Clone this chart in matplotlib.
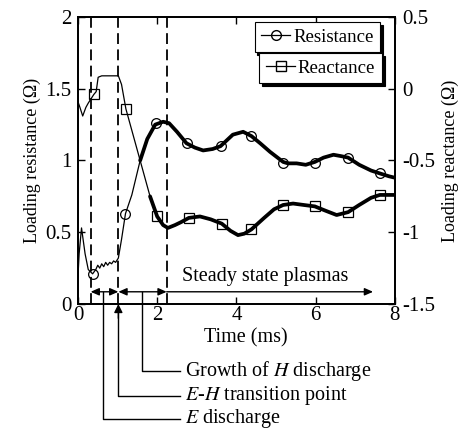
import matplotlib
matplotlib.use("Agg")
import matplotlib.pyplot as plt
import numpy as np
from matplotlib.lines import Line2D

plt.rcParams['font.family'] = ['Liberation Serif', 'DejaVu Serif']
plt.rcParams['mathtext.fontset'] = 'stix'

# ---- data ----
res_t = [0.0, 0.03, 0.09, 0.13, 0.18, 0.26, 0.37, 0.45, 0.5, 0.55, 0.6, 0.65, 0.7, 0.75,
         0.8, 0.85, 0.9, 0.95, 1.02, 1.1, 1.2, 1.36, 1.57, 1.75, 1.95, 2.15, 2.3, 2.5,
         2.74, 2.95, 3.16, 3.4, 3.6, 3.91, 4.17, 4.38, 4.6, 4.85, 5.18, 5.3, 5.52, 5.75,
         5.98, 6.2, 6.45, 6.65, 6.82, 7.1, 7.4, 7.62, 7.85, 8.0]
res_v = [0.19, 0.35, 0.53, 0.45, 0.35, 0.24, 0.21, 0.24, 0.27, 0.25, 0.28, 0.26, 0.29, 0.27,
         0.29, 0.28, 0.30, 0.29, 0.32, 0.45, 0.63, 0.76, 1.00, 1.15, 1.25, 1.27, 1.26, 1.20,
         1.12, 1.09, 1.07, 1.08, 1.10, 1.18, 1.20, 1.17, 1.12, 1.06, 0.99, 0.98, 0.98, 0.97,
         0.99, 1.02, 1.04, 1.03, 1.02, 0.97, 0.93, 0.91, 0.89, 0.88]

rea_t = [0.0, 0.05, 0.12, 0.2, 0.26, 0.33, 0.4, 0.46, 0.51, 0.6, 0.8, 0.95, 1.02, 1.1,
         1.21, 1.4, 1.57, 1.82, 2.0, 2.15, 2.27, 2.45, 2.6, 2.8, 3.08, 3.35, 3.63, 3.85,
         4.04, 4.2, 4.38, 4.7, 4.95, 5.18, 5.43, 5.7, 5.98, 6.25, 6.53, 6.82, 7.1, 7.4,
         7.62, 8.0]
rea_v = [-0.09, -0.13, -0.19, -0.13, -0.10, -0.07, -0.04, -0.02, 0.08, 0.09, 0.09, 0.09,
         0.09, 0.03, -0.14, -0.33, -0.50, -0.75, -0.89, -0.95, -0.97, -0.95, -0.93, -0.90,
         -0.89, -0.91, -0.94, -0.99, -1.02, -1.01, -0.98, -0.90, -0.84, -0.81, -0.80, -0.81,
         -0.82, -0.85, -0.88, -0.86, -0.81, -0.76, -0.74, -0.74]

res_mk_t = [0.37, 1.2, 1.97, 2.76, 3.6, 4.38, 5.18, 5.98, 6.82, 7.62]
res_mk_v = [0.21, 0.63, 1.26, 1.12, 1.10, 1.17, 0.98, 0.98, 1.02, 0.91]
rea_mk_t = [0.4, 1.21, 2.0, 2.8, 3.63, 4.38, 5.18, 5.98, 6.82, 7.62]
rea_mk_v = [-0.04, -0.14, -0.89, -0.90, -0.94, -0.98, -0.81, -0.82, -0.86, -0.74]

phase_lines = [0.32, 1.02, 2.24]
steady_end = 7.45
labels = ["Growth of $\\it{H}$ discharge", "$\\it{E}$-$\\it{H}$ transition point", "$\\it{E}$ discharge"]
label_x = [1.62, 1.02, 0.64]

fig = plt.figure(figsize=(4.64, 4.36), dpi=100)
ax = fig.add_axes([0.168, 0.3028, 0.683, 0.6582])
ax2 = ax.twinx()

rt = np.array(res_t); rv = np.array(res_v)
xt = np.array(rea_t); xv = np.array(rea_v)
m1 = rt <= 1.75; m2 = rt >= 1.57
ax.plot(rt[m1], rv[m1], color='k', lw=0.9)
ax.plot(rt[m2], rv[m2], color='k', lw=2.7, solid_capstyle='round')
ax.plot(res_mk_t, res_mk_v, ls='none', marker='o', ms=7, mfc='none', mec='k', mew=0.9)

n1 = xt <= 2.0; n2 = xt >= 1.82
ax2.plot(xt[n1], xv[n1], color='k', lw=0.9)
ax2.plot(xt[n2], xv[n2], color='k', lw=2.7, solid_capstyle='round')
ax2.plot(rea_mk_t, rea_mk_v, ls='none', marker='s', ms=7, mfc='none', mec='k', mew=0.9)

for xl in phase_lines:
    ax.axvline(xl, color='k', ls=(0, (6, 3)), lw=1.3)

ax.set_xlim(0, 8)
ax.set_ylim(0, 2)
ax2.set_ylim(-1.5, 0.5)
ax.set_xticks([0, 2, 4, 6, 8])
ax.set_yticks([0, 0.5, 1, 1.5, 2])
ax.set_yticklabels(['0', '0.5', '1', '1.5', '2'])
ax2.set_yticks([-1.5, -1, -0.5, 0, 0.5])
ax2.set_yticklabels(['-1.5', '-1', '-0.5', '0', '0.5'])
ax.tick_params(axis='both', direction='in', length=5, width=1, labelsize=15, top=True)
ax.tick_params(axis='x', pad=1.5)
ax.tick_params(axis='y', pad=4.5)
ax2.tick_params(axis='y', direction='in', length=5, width=1, labelsize=15, pad=5)
for a in (ax, ax2):
    for s in a.spines.values():
        s.set_linewidth(1.3)

ax.set_xlabel('Time (ms)', fontsize=14.5, labelpad=0)
ax.xaxis.set_label_coords(0.53, -0.085)
ax.set_ylabel('Loading resistance (Ω)', fontsize=13, labelpad=3)
ax2.set_ylabel('Loading reactance (Ω)', fontsize=13, labelpad=5)

# phase arrows
ay = 0.085
aprops = dict(arrowstyle='<|-|>,head_length=0.5,head_width=0.22', color='k', lw=1.0,
              shrinkA=0, shrinkB=0)
ax.annotate('', xy=(phase_lines[0], ay), xytext=(phase_lines[1], ay), arrowprops=aprops)
ax.annotate('', xy=(phase_lines[1], ay), xytext=(phase_lines[2], ay), arrowprops=aprops)
ax.annotate('', xy=(steady_end, ay), xytext=(phase_lines[2], ay),
            arrowprops=dict(arrowstyle='-|>,head_length=0.5,head_width=0.22', color='k',
                            lw=1.0, shrinkA=0, shrinkB=0))
ax.text(4.72, 0.19, 'Steady state plasmas', fontsize=14.5, ha='center', va='center')

# callouts below the axis
yb = [-0.47, -0.64, -0.80]
xend = 2.58
for lx, y, lab in zip(label_x, yb, labels):
    top = ay if lab != labels[1] else -0.04
    ax.plot([lx, lx, xend], [top, y, y], color='k', lw=1.0, clip_on=False)
    ax.text(xend + 0.13, y, lab, fontsize=14.5, ha='left', va='center', clip_on=False)
ax.annotate('', xy=(label_x[1], 0.0), xytext=(label_x[1], -0.1),
            arrowprops=dict(arrowstyle='-|>,head_length=0.5,head_width=0.25', color='k',
                            lw=1.0, shrinkA=0, shrinkB=0), annotation_clip=False)

# legends
h1 = Line2D([], [], color='k', lw=0.9, marker='o', ms=7, mfc='none', mec='k')
h2 = Line2D([], [], color='k', lw=0.9, marker='s', ms=7, mfc='none', mec='k')
common = dict(fontsize=13.5, frameon=True, fancybox=False, edgecolor='k',
              shadow={'color': 'k', 'alpha': 1}, handlelength=1.55, handletextpad=0.15,
              borderpad=0.35, borderaxespad=0, loc='upper right')
lg1 = ax2.legend([h1], ['Resistance'], bbox_to_anchor=(0.953, 0.983), **common)
lg1.get_frame().set_linewidth(0.8)
ax2.add_artist(lg1)
lg2 = ax2.legend([h2], ['Reactance'], bbox_to_anchor=(0.959, 0.875), **common)
lg2.get_frame().set_linewidth(0.8)

fig.savefig('out.png', dpi=100)
